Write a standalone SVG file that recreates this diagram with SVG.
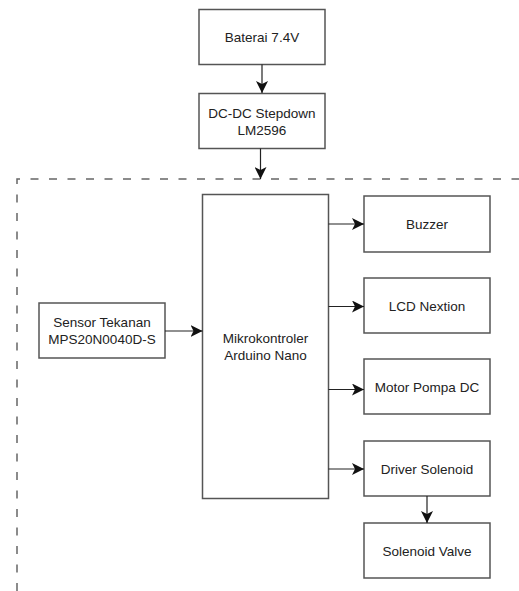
<svg xmlns="http://www.w3.org/2000/svg" width="519" height="591" viewBox="0 0 519 591">
<style>
.box{fill:#fff;stroke:#555;stroke-width:1.5}
.lbl{font-family:"Liberation Sans",Arial,sans-serif;font-size:13.5px;fill:#222;text-anchor:middle;dominant-baseline:central}
.conn{fill:none;stroke:#222;stroke-width:1.2}
.frame{fill:none;stroke:#666;stroke-width:1.5;stroke-dasharray:8 10.5}
</style>
<defs>
<marker id="arr" markerUnits="userSpaceOnUse" markerWidth="12" markerHeight="12" viewBox="0 0 10 10" refX="10" refY="5" orient="auto">
<path d="M0,0 L10,5 L0,10 L2.5,5 z" fill="#111"/>
</marker>
</defs>
<rect width="519" height="591" fill="#fff"/>
<path class="frame" d="M17,591 V179 H519"/>
<g id="baterai"><rect class="box" x="199" y="9.5" width="126" height="55"/><text class="lbl" x="262" y="37">Baterai 7.4V</text></g>
<g id="dcdc"><rect class="box" x="199" y="93.5" width="126" height="55"/><text class="lbl" x="262" y="113">DC-DC Stepdown</text><text class="lbl" x="262" y="130">LM2596</text></g>
<g id="mikro"><rect class="box" x="202.5" y="194.5" width="126" height="304"/><text class="lbl" x="265.5" y="338">Mikrokontroler</text><text class="lbl" x="265.5" y="355">Arduino Nano</text></g>
<g id="sensor"><rect class="box" x="39" y="303" width="126" height="55"/><text class="lbl" x="102" y="322">Sensor Tekanan</text><text class="lbl" x="102" y="339">MPS20N0040D-S</text></g>
<g id="buzzer"><rect class="box" x="364" y="196" width="126" height="56"/><text class="lbl" x="427" y="224">Buzzer</text></g>
<g id="lcd"><rect class="box" x="364" y="278" width="126" height="55"/><text class="lbl" x="427" y="306">LCD Nextion</text></g>
<g id="motor"><rect class="box" x="364" y="359" width="126" height="55"/><text class="lbl" x="427" y="387">Motor Pompa DC</text></g>
<g id="driver"><rect class="box" x="364" y="441" width="126" height="55"/><text class="lbl" x="427" y="469">Driver Solenoid</text></g>
<g id="valve"><rect class="box" x="364" y="523" width="126" height="55"/><text class="lbl" x="427" y="551">Solenoid Valve</text></g>
<g id="connectors">
<line class="conn" x1="262" y1="64.5" x2="262" y2="93" marker-end="url(#arr)"/>
<line class="conn" x1="260.5" y1="148.5" x2="260.5" y2="179" marker-end="url(#arr)"/>
<line class="conn" x1="165" y1="331" x2="202.5" y2="331" marker-end="url(#arr)"/>
<line class="conn" x1="328.5" y1="224" x2="364" y2="224" marker-end="url(#arr)"/>
<line class="conn" x1="328.5" y1="306.5" x2="364" y2="306.5" marker-end="url(#arr)"/>
<line class="conn" x1="328.5" y1="389.5" x2="364" y2="389.5" marker-end="url(#arr)"/>
<line class="conn" x1="328.5" y1="469" x2="364" y2="469" marker-end="url(#arr)"/>
<line class="conn" x1="427" y1="496" x2="427" y2="523" marker-end="url(#arr)"/>
</g>
</svg>
